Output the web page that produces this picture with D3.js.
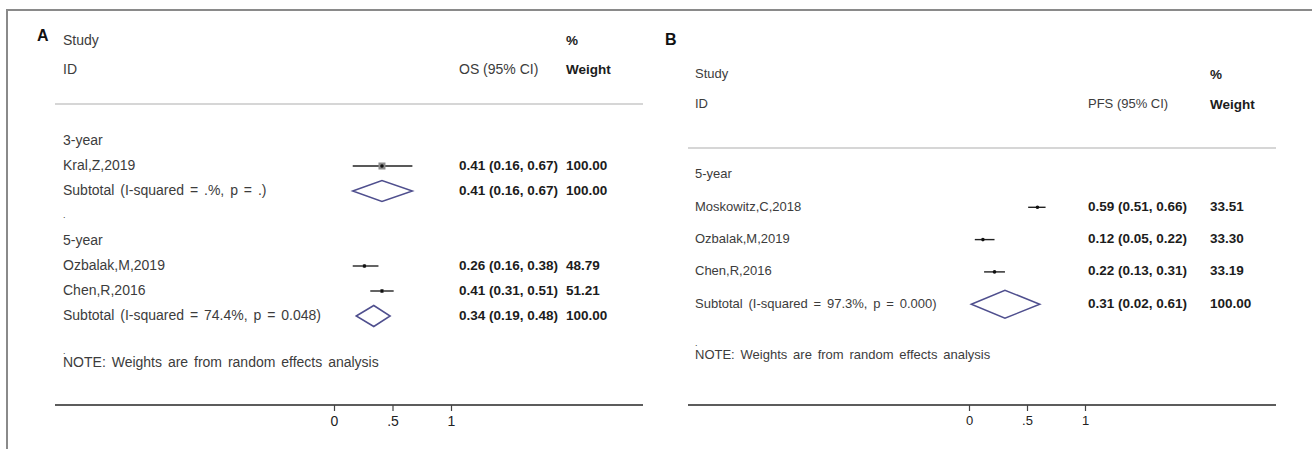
<!DOCTYPE html>
<html>
<head>
<meta charset="utf-8">
<script src="https://cdn.jsdelivr.net/npm/d3@7"></script>
<style>
  body { margin: 0; background: #fff; }
  svg { display: block; }
  text { font-family: "Liberation Sans", Arial, Helvetica, sans-serif; }
</style>
</head>
<body>
<svg id="chart" width="1312" height="449"></svg>
<script>
// ---- Panel A: overall survival (OS) ----
const osLabels = ["3-year", "Kral,Z,2019", "Subtotal  (I-squared = .%, p = .)", ".",
                  "5-year", "Ozbalak,M,2019", "Chen,R,2016", "Subtotal  (I-squared = 74.4%, p = 0.048)"];
const osKinds  = ["group", "study", "subtotal", "spacer", "group", "study", "study", "subtotal"];
const osEst    = [null, 0.41, 0.41, null, null, 0.26, 0.41, 0.34];
const osLow    = [null, 0.16, 0.16, null, null, 0.16, 0.31, 0.19];
const osHigh   = [null, 0.67, 0.67, null, null, 0.38, 0.51, 0.48];
const osWeight = [null, 100.00, 100.00, null, null, 48.79, 51.21, 100.00];

// ---- Panel B: progression-free survival (PFS) ----
const pfsLabels = ["5-year", "Moskowitz,C,2018", "Ozbalak,M,2019", "Chen,R,2016",
                   "Subtotal  (I-squared = 97.3%, p = 0.000)"];
const pfsKinds  = ["group", "study", "study", "study", "subtotal"];
const pfsEst    = [null, 0.59, 0.12, 0.22, 0.31];
const pfsLow    = [null, 0.51, 0.05, 0.13, 0.02];
const pfsHigh   = [null, 0.66, 0.22, 0.31, 0.61];
const pfsWeight = [null, 33.51, 33.30, 33.19, 100.00];

// ---- shared axis ----
const tickValues = [0, 0.5, 1];
const tickLabels = ["0", ".5", "1"];
const noteText = "NOTE: Weights are from random effects analysis";

const fmt2 = d3.format(".2f");
const svg = d3.select("#chart");

svg.append("rect").attr("width", 1312).attr("height", 449).attr("fill", "#fff");

// outer frame (top and left edges)
svg.append("path")
  .attr("d", "M7,449 V10 H1312")
  .attr("fill", "none").attr("stroke", "#8a8a8a").attr("stroke-width", 2);

function drawPanel(cfg, rows) {
  const g = svg.append("g").style("font-size", cfg.font + "px");
  const x = d3.scaleLinear().domain([0, 1]).range([cfg.x0, cfg.x1]);
  const rowY = i => cfg.rowY0 + i * cfg.rowStep;
  const txt = "#3c3c3c", dark = "#1c1c1c";

  // panel letter
  g.append("text").attr("x", cfg.letterX).attr("y", cfg.letterY)
    .attr("dominant-baseline", "middle").attr("font-weight", "bold")
    .style("font-size", "16px").attr("fill", "#111").text(cfg.letter);

  // header
  const head = [
    { t: "Study", x: cfg.labelX, y: cfg.headY1, b: false },
    { t: "%", x: cfg.weightX, y: cfg.headY1, b: true },
    { t: "ID", x: cfg.labelX, y: cfg.headY2, b: false },
    { t: cfg.statTitle, x: cfg.statX, y: cfg.headY2, b: false },
    { t: "Weight", x: cfg.weightX, y: cfg.headY2, b: true }
  ];
  g.selectAll("text.head").data(head).join("text").attr("class", "head")
    .attr("x", d => d.x).attr("y", d => d.y).attr("dominant-baseline", "middle")
    .attr("font-weight", d => d.b ? "bold" : "normal")
    .style("font-size", d => d.b ? cfg.statFont + "px" : null)
    .attr("fill", d => d.b ? dark : txt).text(d => d.t);

  // header separator
  g.append("line").attr("x1", cfg.left).attr("x2", cfg.right)
    .attr("y1", cfg.sepY).attr("y2", cfg.sepY)
    .attr("stroke", "#c8c8c8").attr("stroke-width", 1.5);

  const data = rows.labels.map((label, i) => ({
    label, kind: rows.kinds[i], est: rows.est[i], lo: rows.low[i],
    hi: rows.high[i], w: rows.weight[i], y: rowY(i)
  }));

  // row labels
  g.selectAll("text.lab").data(data).join("text").attr("class", "lab")
    .attr("x", cfg.labelX).attr("y", d => d.y).attr("dominant-baseline", "middle")
    .attr("fill", txt).style("word-spacing", cfg.wordSpace + "px")
    .style("font-size", d => d.kind === "spacer" ? "9px" : null)
    .text(d => d.label);

  const withEst = data.filter(d => d.est !== null);

  // estimate and weight columns
  g.selectAll("text.stat").data(withEst).join("text").attr("class", "stat")
    .attr("x", cfg.statX).attr("y", d => d.y).attr("dominant-baseline", "middle")
    .attr("font-weight", "bold").attr("fill", dark).style("font-size", cfg.statFont + "px")
    .text(d => `${fmt2(d.est)} (${fmt2(d.lo)}, ${fmt2(d.hi)})`);
  g.selectAll("text.wt").data(withEst).join("text").attr("class", "wt")
    .attr("x", cfg.weightX).attr("y", d => d.y).attr("dominant-baseline", "middle")
    .attr("font-weight", "bold").attr("fill", dark).style("font-size", cfg.statFont + "px")
    .text(d => fmt2(d.w));

  // study confidence intervals, weight boxes and point estimates
  const studies = withEst.filter(d => d.kind === "study");
  g.selectAll("line.ci").data(studies).join("line").attr("class", "ci")
    .attr("x1", d => x(d.lo)).attr("x2", d => x(d.hi))
    .attr("y1", d => d.y).attr("y2", d => d.y)
    .attr("stroke", "#222").attr("stroke-width", 1.4);
  g.selectAll("rect.box").data(studies).join("rect").attr("class", "box")
    .attr("x", d => x(d.est) - cfg.boxMax * d.w / 200)
    .attr("y", d => d.y - cfg.boxMax * d.w / 200)
    .attr("width", d => cfg.boxMax * d.w / 100)
    .attr("height", d => cfg.boxMax * d.w / 100)
    .attr("fill", "#8c8c8c");
  g.selectAll("circle.pt").data(studies).join("circle").attr("class", "pt")
    .attr("cx", d => x(d.est)).attr("cy", d => d.y).attr("r", 1.8)
    .attr("fill", "#111");

  // pooled subtotal diamonds
  const subs = withEst.filter(d => d.kind === "subtotal");
  g.selectAll("path.dia").data(subs).join("path").attr("class", "dia")
    .attr("d", d => `M${x(d.lo)},${d.y} L${x(d.est)},${d.y - cfg.diaH} L${x(d.hi)},${d.y} L${x(d.est)},${d.y + cfg.diaH} Z`)
    .attr("fill", "none").attr("stroke", "#4f4f8e").attr("stroke-width", 1.5);

  // footnote
  g.append("text").attr("x", cfg.labelX).attr("y", cfg.dotY)
    .attr("dominant-baseline", "middle").style("font-size", "9px").attr("fill", txt).text(".");
  g.append("text").attr("x", cfg.labelX).attr("y", cfg.noteY)
    .attr("dominant-baseline", "middle").attr("fill", txt)
    .style("word-spacing", cfg.wordSpace + "px").text(noteText);

  // x axis
  g.append("line").attr("x1", cfg.left).attr("x2", cfg.right)
    .attr("y1", cfg.axisY).attr("y2", cfg.axisY)
    .attr("stroke", "#5c5c5c").attr("stroke-width", 2.2);
  const axis = d3.axisBottom(x).tickValues(tickValues)
    .tickFormat((d, i) => tickLabels[i]).tickSize(6).tickSizeOuter(0).tickPadding(5);
  const ax = g.append("g").attr("transform", `translate(0,${cfg.axisY})`).call(axis);
  ax.select(".domain").remove();
  ax.selectAll(".tick line").attr("stroke", "#444").attr("stroke-width", 1.2);
  ax.selectAll(".tick text").attr("fill", "#222")
    .style("font-family", "\"Liberation Sans\", Arial, sans-serif")
    .style("font-size", cfg.font + "px");
}

drawPanel({
  letter: "A", letterX: 37, letterY: 37, left: 55, right: 643,
  labelX: 63, statX: 459, weightX: 566, x0: 334, x1: 451,
  headY1: 41, headY2: 70, sepY: 104, rowY0: 141, rowStep: 25,
  dotY: 352, noteY: 363, axisY: 405, font: 14, statFont: 13.5, wordSpace: 2,
  statTitle: "OS (95% CI)", boxMax: 7, diaH: 10.5
}, { labels: osLabels, kinds: osKinds, est: osEst, low: osLow, high: osHigh, weight: osWeight });

drawPanel({
  letter: "B", letterX: 665, letterY: 41, left: 688, right: 1276,
  labelX: 695, statX: 1088, weightX: 1210, x0: 969, x1: 1085,
  headY1: 75, headY2: 105, sepY: 148, rowY0: 175, rowStep: 32.3,
  dotY: 344, noteY: 356, axisY: 405, font: 13, statFont: 13.5, wordSpace: 2.2,
  statTitle: "PFS (95% CI)", boxMax: 7, diaH: 14
}, { labels: pfsLabels, kinds: pfsKinds, est: pfsEst, low: pfsLow, high: pfsHigh, weight: pfsWeight });
</script>
</body>
</html>
